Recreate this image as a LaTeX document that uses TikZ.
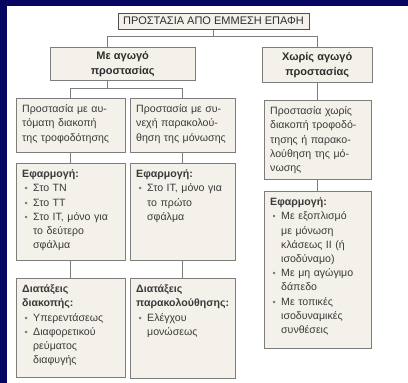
\documentclass[tikz,border=0pt]{standalone}
\usepackage{fontspec}
\setmainfont{Liberation Sans}
\usepackage{xcolor}
\usepackage{tikz}
\definecolor{FondBleu}{RGB}{6,6,98}
\definecolor{FondCadre}{RGB}{243,241,234}
\definecolor{BordCadre}{RGB}{125,125,125}
\definecolor{BordTitre}{RGB}{80,80,80}
\definecolor{Texte}{RGB}{58,58,58}
\definecolor{Puce}{RGB}{120,120,120}
\hyphenpenalty=10000
\newcommand{\puce}{\makebox[11pt][l]{\hspace{2.5pt}{\color{Puce}\small\textbullet}}}
\newcommand{\suite}{\hspace*{11pt}}
\tikzset{
Cadre/.style n args={2}{
 draw=BordCadre, 
 fill=FondCadre, 
 anchor=north west, 
 align=left, 
 inner xsep=6pt, 
 inner ysep=4pt, 
 text width=#1-12pt, 
 text height=10.5pt, 
 text depth=#2-18.5pt, 
 text=Texte, 
 font=\fontsize{10.6}{14.2}\selectfont
 },
Entete/.style n args={2}{
 draw=BordCadre, 
 fill=FondCadre, 
 anchor=north west, 
 minimum width=#1, 
 minimum height=#2, 
 inner sep=0pt, 
 text=Texte!80!black, 
 font=\bfseries\fontsize{11}{15.5}\selectfont
 },
Titre/.style={
 draw=BordTitre, 
 line width=1pt, 
 fill=FondCadre, 
 minimum width=191pt, 
 minimum height=16pt, 
 inner sep=0pt, 
 text=Texte!80!black, 
 font=\fontsize{11}{12}\selectfont
 },
Lien/.style={
 draw=BordCadre, 
 line width=0.7pt
 }
}

\begin{document}
\begin{tikzpicture}[x=1pt,y=-1pt]
\useasboundingbox (0,0) rectangle (408,383);
\fill[FondBleu] (0,0) rectangle (408,383);
\fill[white] (7,6) rectangle (408,383);
% titre et deux branches
\node[Titre] (titre) at (213.5,21) {ΠΡΟΣΤΑΣΙΑ ΑΠΟ ΕΜΜΕΣΗ ΕΠΑΦΗ};
\node[Entete={145pt}{33pt}] (avec) at (50,47)
 {\begin{tabular}{@{}c@{}}Με αγωγό\\προστασίας\end{tabular}\hspace{37pt}};
\node[Entete={110pt}{35pt}] (sans) at (262,47)
 {\begin{tabular}{@{}c@{}}Χωρίς αγωγό\\προστασίας\end{tabular}\hspace{18pt}};
% niveau 3
\node[Cadre={109pt}{54pt}] (aveccoup) at (16,98)
 {Προστασία με αυ-\\τόματη διακοπή\\της τροφοδότησης};
\node[Cadre={105pt}{54pt}] (avecsurv) at (130,98)
 {Προστασία με συ-\\νεχή παρακολού-\\θηση της μόνωσης};
\node[Cadre={107pt}{79pt}] (sanscoup) at (264,100)
 {Προστασία χωρίς\\διακοπή τροφοδό-\\τησης ή παρακο-\\λούθηση της μό-\\νωσης};
% applications
\node[Cadre={109pt}{97pt}] (applicoup) at (16,163)
 {\textbf{Εφαρμογή:}\\\puce Στο TN\\\puce Στο TT\\\puce Στο IT, μόνο για\\\suite το δεύτερο\\\suite σφάλμα};
\node[Cadre={105pt}{97pt}] (applisurv) at (130,163)
 {\textbf{Εφαρμογή:}\\\puce Στο IT, μόνο για\\\suite το πρώτο\\\suite σφάλμα};
\node[Cadre={107pt}{157pt}] (applisans) at (264,191)
 {\textbf{Εφαρμογή:}\\\puce Με εξοπλισμό\\\suite με μόνωση\\\suite κλάσεως II (ή\\\suite ισοδύναμο)\\\puce Με μη αγώγιμο\\\suite δάπεδο\\\puce Με τοπικές\\\suite ισοδυναμικές\\\suite συνθέσεις};
% dispositifs
\node[Cadre={109pt}{99pt}] (dispcoup) at (16,278)
 {\textbf{Διατάξεις}\\\textbf{διακοπής:}\\\puce Υπερεντάσεως\\\puce Διαφορετικού\\\suite ρεύματος\\\suite διαφυγής};
\node[Cadre={105pt}{100pt}] (dispsurv) at (130,278)
 {\textbf{Διατάξεις}\\\textbf{παρακολούθησης:}\\\puce Ελέγχου\\\suite μονώσεως};
% liaisons
\draw[Lien] (titre.south) -- ++(0,7) -| ([xshift=57pt]avec.north west);
\draw[Lien] (titre.south) -- ++(0,7) -| (sans.north);
\draw[Lien] ([xshift=57pt]avec.south west) -- ++(0,8) -| (aveccoup.north);
\draw[Lien] ([xshift=57pt]avec.south west) -- ++(0,8) -| (avecsurv.north);
\draw[Lien] (sans.south) -- (sans.south |- sanscoup.north);
\draw[Lien] (aveccoup.south) -- (applicoup.north);
\draw[Lien] (avecsurv.south) -- (applisurv.north);
\draw[Lien] (sanscoup.south) -- (applisans.north);
\draw[Lien] (applicoup.south) -- (dispcoup.north);
\draw[Lien] (applisurv.south) -- (dispsurv.north);
\end{tikzpicture}
\end{document}
